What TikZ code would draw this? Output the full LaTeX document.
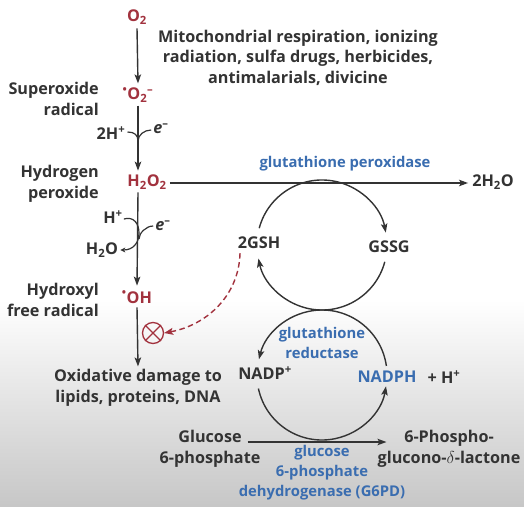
\documentclass[tikz,border=0pt]{standalone}
\usepackage{fontspec}
\setmainfont{Open Sans}
\usetikzlibrary{arrows.meta}
\definecolor{txt}{HTML}{333333}
\definecolor{rd}{HTML}{A2323E}
\definecolor{bl}{HTML}{3A6DB0}
\begin{document}
\begin{tikzpicture}[x=1pt,y=-1pt,
  font=\bfseries\fontsize{16.2}{20.5}\selectfont,
  lab/.style={text=txt, inner sep=1pt},
  redlab/.style={text=rd, inner sep=1pt},
  blulab/.style={text=bl, inner sep=1pt, font=\bfseries\fontsize{14.8}{20}\selectfont},
  ln/.style={draw=txt, line width=1.4pt},
  arr/.style={ln, -{Stealth[length=9pt,width=6.5pt,inset=2pt]}},
  smallarr/.style={draw=txt, line width=1.2pt, -{Stealth[length=5pt,width=5pt,inset=1.5pt]}},
  dasharr/.style={draw=rd, line width=1.4pt, dash pattern=on 5.5pt off 3.5pt, -{Stealth[length=9pt,width=7pt,inset=2pt]}}
]
\fill[white] (0,0) rectangle (524,506);
\shade[top color=white, bottom color=black!22] (0,300) rectangle (524,506);
\useasboundingbox (0,0) rectangle (524,506);

% spine species
\node[redlab] (o2) at (137,17) {O\textsubscript{2}};
\node[redlab] (so2) at (138,95) {\textsuperscript{\textbullet}O\textsubscript{2}\textsuperscript{–}};
\node[redlab] (h2o2) at (147,182) {H\textsubscript{2}O\textsubscript{2}};
\node[redlab] (oh) at (137,297) {\textsuperscript{\textbullet}OH};
\node[lab, align=center] (dmg) at (138,388) {Oxidative damage to\\lipids, proteins, DNA};

% left labels
\node[lab, align=right, anchor=east] (supl) at (100,99) {Superoxide\\radical};
\node[lab, align=right, anchor=east] (hpl) at (100,184) {Hydrogen\\peroxide};
\node[lab, align=right, anchor=east] (ohl) at (100,300) {Hydroxyl\\free radical};

\node[lab, align=center] (mito) at (298,57.5) {Mitochondrial respiration, ionizing\\radiation, sulfa drugs, herbicides,\\antimalarials, divicine};

% side reagents
\node[lab] (twoH) at (111,133) {2H\textsuperscript{+}};
\node[lab] (e1) at (161,129) {\textit{e}\textsuperscript{–}};
\node[lab] (hp) at (113,217) {H\textsuperscript{+}};
\node[lab] (e2) at (163,226) {\textit{e}\textsuperscript{–}};
\node[lab] (h2o) at (102,250) {H\textsubscript{2}O};

% vertical arrows
\draw[arr] ([yshift=-3pt]o2.south) -- ([yshift=3pt]so2.north);
\draw[arr] ([yshift=-2pt]so2.south) -- ([yshift=3pt,xshift=-9pt]h2o2.north);
\draw[arr] ([yshift=-2pt,xshift=-9pt]h2o2.south) -- ([yshift=4pt]oh.north);
\draw[arr] ([yshift=-3pt]oh.south) -- ([yshift=2pt]dmg.north);

% curly arms
\coordinate (m1) at (138,141);
\draw[ln, line width=1.2pt] ([xshift=1pt,yshift=1pt]twoH.east) .. controls +(7,0) and +(0,-6) .. (m1);
\draw[ln, line width=1.2pt] ([xshift=-1pt,yshift=-1pt]e1.west) .. controls +(-7,0) and +(0,-6) .. (m1);
\draw[smallarr] ([xshift=0pt,yshift=-2pt]hp.east) .. controls (134,216) and (139,224) .. (139,233) .. controls (139,243) and (133,250) .. ([xshift=1pt]h2o.east);
\coordinate (m2) at (139,239);
\draw[ln, line width=1.2pt] ([xshift=-1pt]e2.west) .. controls +(-7,0) and +(0,-6) .. (m2);

% inhibition symbol
\node[draw=rd, line width=1.3pt, circle, minimum size=21pt, inner sep=0pt] (blk) at (153,333) {};
\draw[rd, line width=1.3pt] (blk.north west) -- (blk.south east);
\draw[rd, line width=1.3pt] (blk.north east) -- (blk.south west);

% glutathione peroxidase reaction
\node[lab] (w2) at (493,182) {2H\textsubscript{2}O};
\node[blulab] (gpx) at (345,164) {glutathione peroxidase};
\draw[arr] ([xshift=2pt,yshift=-1pt]h2o2.east) -- ([xshift=-3pt,yshift=-1pt]w2.west);

% cycles
\coordinate (c1) at (322,245);
\coordinate (c2) at (322,375);
\node[lab] (gsh) at (259,243) {2GSH};
\node[lab] (gssg) at (389,247) {GSSG};
\node[lab] (nadp) at (265,373) {NADP\textsuperscript{+}};
\node[blulab, font=\bfseries\fontsize{16.2}{20}\selectfont] (nadph) at (387,377) {NADPH};
\node[lab] (hplus) at (444,377) {+ H\textsuperscript{+}};
\node[blulab, align=center] (gr) at (322,343) {glutathione\\reductase};

\draw[arr] (c1) ++(195:65) arc (195:349:65);
\draw[arr] (c1) ++(15:65) arc (15:168:65);
\draw[arr] (c2) ++(352:65) arc (352:194:65);
\draw[arr] (c2) ++(168:65) arc (168:10:65);

% G6PD reaction
\node[lab, align=center] (g6p) at (210,449) {Glucose\\6-phosphate};
\node[lab, align=center] (pgl) at (449,449) {6-Phospho-\\glucono-$\delta$-lactone};
\node[blulab, align=center] (g6pd) at (322,473) {glucose\\6-phosphate\\dehydrogenase (G6PD)};
\draw[arr] ([xshift=-14pt,yshift=7pt]g6p.east) -- ([xshift=10pt,yshift=7pt]pgl.west);

% dashed inhibition
\draw[dasharr] ([xshift=-19pt,yshift=-3pt]gsh.south) .. controls +(-1,42) and +(43,-8) .. (blk.east);
\end{tikzpicture}
\end{document}
